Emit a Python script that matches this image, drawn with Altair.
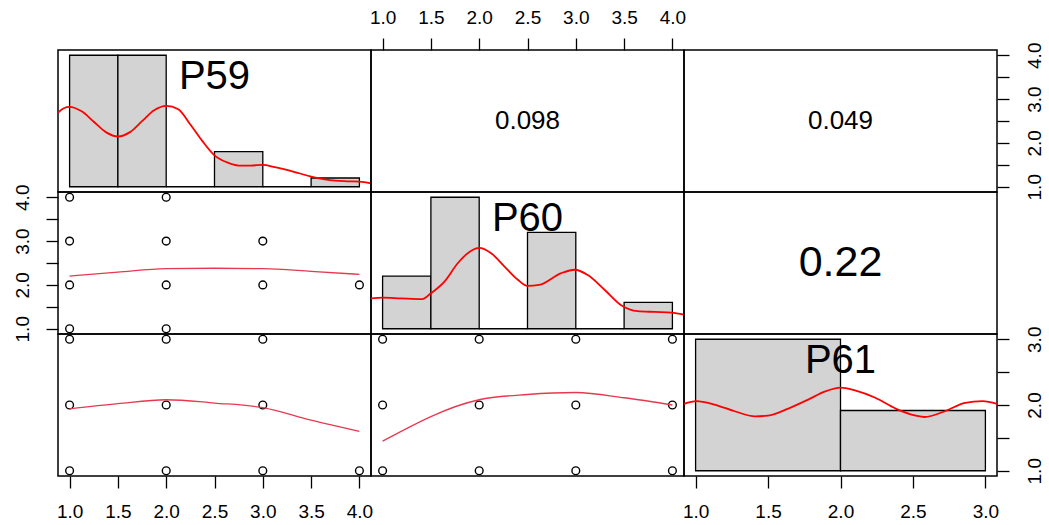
import altair as alt
import pandas as pd

FONT = "Liberation Sans"

# ---------------- data ----------------
var_names = ["P59", "P60", "P61"]
dom_p59 = [0.88, 4.12]
dom_p60 = [0.88, 4.12]
dom_p61 = [0.92, 3.08]

# histograms (bin edges and counts)
p59_bin_start = [1.0, 1.5, 2.0, 2.5, 3.0, 3.5]
p59_bin_end = [1.5, 2.0, 2.5, 3.0, 3.5, 4.0]
p59_counts = [15, 15, 0, 4, 0, 1]
p60_bin_start = [1.0, 1.5, 2.0, 2.5, 3.0, 3.5]
p60_bin_end = [1.5, 2.0, 2.5, 3.0, 3.5, 4.0]
p60_counts = [6, 15, 0, 11, 0, 3]
p61_bin_start = [1.0, 2.0]
p61_bin_end = [2.0, 3.0]
p61_counts = [24, 11]

# density curves (in count units)
p59_dens_x = [0.88, 0.94, 1.0, 1.125, 1.25, 1.375, 1.5, 1.625, 1.75, 1.875, 2.0, 2.125, 2.25,
              2.375, 2.5, 2.625, 2.75, 2.875, 3.0, 3.125, 3.25, 3.375, 3.5, 3.625, 3.75, 3.875, 4.0, 4.12]
p59_dens_y = [8.46, 8.96, 9.12, 8.6, 7.42, 6.23, 5.73, 6.23, 7.48, 8.73, 9.23, 8.85, 7.1,
              5.2, 3.58, 2.8, 2.42, 2.42, 2.5, 2.23, 1.92, 1.54, 1.15, 0.88, 0.69, 0.62, 0.58, 0.38]
p60_dens_x = [0.88, 1.0, 1.19, 1.41, 1.5, 1.64, 1.78, 1.91, 2.0, 2.12, 2.26, 2.4, 2.5, 2.62,
              2.85, 2.99, 3.12, 3.3, 3.47, 3.64, 3.82, 3.99, 4.12]
p60_dens_y = [3.46, 3.54, 3.46, 3.38, 4.04, 5.38, 7.5, 8.85, 9.23, 8.65, 7.12, 5.58, 4.88, 5.0,
              6.35, 6.73, 6.15, 4.42, 2.69, 2.0, 1.92, 1.85, 1.62]
p61_dens_x = [0.92, 1.005, 1.13, 1.27, 1.41, 1.5, 1.64, 1.78, 1.89, 2.0, 2.1, 2.24, 2.38, 2.52,
              2.58, 2.72, 2.86, 2.98, 3.08]
p61_dens_y = [12.2, 12.71, 12.09, 10.86, 9.93, 10.06, 11.35, 13.02, 14.44, 15.18, 14.68, 13.33,
              11.35, 10.06, 9.81, 10.86, 12.4, 12.71, 12.2]

# scatter points
s5960_x = [1, 2, 1, 2, 3, 1, 2, 3, 4, 1, 2]
s5960_y = [4, 4, 3, 3, 3, 2, 2, 2, 2, 1, 1]
s5961_x = [1, 2, 3, 1, 2, 3, 1, 2, 3, 4]
s5961_y = [3, 3, 3, 2, 2, 2, 1, 1, 1, 1]
s6061_x = [1, 2, 3, 4, 1, 2, 3, 4, 1, 2, 3, 4]
s6061_y = [3, 3, 3, 3, 2, 2, 2, 2, 1, 1, 1, 1]

# loess smooths
l5960_x = [1, 1.5, 2, 2.5, 3, 3.5, 4]
l5960_y = [2.2, 2.29, 2.37, 2.38, 2.37, 2.31, 2.24]
l5961_x = [1, 1.5, 2, 2.5, 3, 3.5, 4]
l5961_y = [1.94, 2.02, 2.08, 2.03, 1.96, 1.77, 1.60]
l6061_x = [1, 2, 2.5, 3, 3.5, 4]
l6061_y = [1.45, 2.08, 2.16, 2.19, 2.11, 2.0]

# correlations
r_5960 = "0.098"
r_5961 = "0.049"
r_6061 = "0.22"

ticks_4 = [1.0, 1.5, 2.0, 2.5, 3.0, 3.5, 4.0]
ticks_3 = [1.0, 1.5, 2.0, 2.5, 3.0]

# ---------------- styling helpers ----------------
W, H = 313, 142
LABEL_FS = 19


def sc(domain):
    return alt.Scale(domain=domain, nice=False, zero=False)


def xaxis(orient, values, pad):
    return alt.Axis(orient=orient, values=values, format=".1f", tickSize=12, tickWidth=1.3,
                    tickColor="black", labelPadding=pad, labelFontSize=LABEL_FS, labelFont=FONT,
                    labelColor="black", labelFlush=False, labelOverlap=False, domain=False,
                    grid=False, title=None, labelAngle=0)


def yaxis(orient, values, pad):
    return alt.Axis(orient=orient, values=values,
                    labelExpr="datum.value % 1 == 0 ? format(datum.value, '.1f') : ''",
                    tickSize=12, tickWidth=1.3, tickColor="black", labelPadding=pad,
                    labelFontSize=LABEL_FS, labelFont=FONT, labelColor="black",
                    labelFlush=False, labelOverlap=False, domain=False, grid=False, title=None,
                    labelAngle=270, labelAlign="center",
                    labelBaseline="bottom" if orient == "left" else "top")


def diag_panel(name, b0, b1, counts, dx, dy, xdom, xax=None, yax=None):
    m = max(counts)
    cdom = [-0.04 * m, 1.04 * m]
    hist_df = pd.DataFrame({"b0": b0, "b1": b1, "c": counts, "base": [0] * len(counts)})
    dens_df = pd.DataFrame({"x": dx, "d": dy})
    cx = (xdom[0] + xdom[1]) / 2
    ly = xdom[0] + 0.81 * (xdom[1] - xdom[0])
    lab_df = pd.DataFrame({"x": [cx], "y": [ly], "t": [name]})
    hist = alt.Chart(hist_df).mark_rect(fill="#D3D3D3", stroke="black", strokeWidth=1.3).encode(
        x=alt.X("b0:Q", scale=sc(xdom), axis=xax), x2="b1:Q",
        y=alt.Y("c:Q", scale=sc(cdom), axis=None), y2="base:Q")
    dens = alt.Chart(dens_df).mark_line(color="red", strokeWidth=1.8, interpolate="monotone").encode(
        x=alt.X("x:Q", scale=sc(xdom), axis=xax),
        y=alt.Y("d:Q", scale=sc(cdom), axis=None))
    lab = alt.Chart(lab_df).mark_text(font=FONT, fontSize=40, color="black", align="center",
                                      baseline="middle").encode(
        x=alt.X("x:Q", scale=sc(xdom), axis=xax),
        y=alt.Y("y:Q", scale=sc(xdom), axis=yax),
        text="t:N")
    return alt.layer(hist, dens, lab).resolve_scale(y="independent").properties(width=W, height=H)


def scatter_panel(px, py, lx, ly, xdom, ydom, xax=None, yax=None):
    pts_df = pd.DataFrame({"x": px, "y": py})
    lo_df = pd.DataFrame({"x": lx, "y": ly})
    pts = alt.Chart(pts_df).mark_point(shape="circle", filled=False, color="black", size=60,
                                       strokeWidth=1.4, opacity=1).encode(
        x=alt.X("x:Q", scale=sc(xdom), axis=xax),
        y=alt.Y("y:Q", scale=sc(ydom), axis=yax))
    lo = alt.Chart(lo_df).mark_line(color="#e8384f", strokeWidth=1.3, interpolate="monotone").encode(
        x=alt.X("x:Q", scale=sc(xdom), axis=xax),
        y=alt.Y("y:Q", scale=sc(ydom), axis=yax))
    return alt.layer(pts, lo).properties(width=W, height=H)


def cor_panel(txt, size, xdom, ydom, xax=None, yax=None):
    df = pd.DataFrame({"x": [(xdom[0] + xdom[1]) / 2], "y": [(ydom[0] + ydom[1]) / 2], "t": [txt]})
    return alt.Chart(df).mark_text(font=FONT, fontSize=size, color="black", align="center",
                                   baseline="middle").encode(
        x=alt.X("x:Q", scale=sc(xdom), axis=xax),
        y=alt.Y("y:Q", scale=sc(ydom), axis=yax),
        text="t:N").properties(width=W, height=H)


panels = [
    diag_panel("P59", p59_bin_start, p59_bin_end, p59_counts, p59_dens_x, p59_dens_y, dom_p59),
    cor_panel(r_5960, 26, dom_p60, dom_p59, xax=xaxis("top", ticks_4, 11)),
    cor_panel(r_5961, 26, dom_p61, dom_p59, yax=yaxis("right", ticks_4, 16)),
    scatter_panel(s5960_x, s5960_y, l5960_x, l5960_y, dom_p59, dom_p60,
                  yax=yaxis("left", ticks_4, 14)),
    diag_panel("P60", p60_bin_start, p60_bin_end, p60_counts, p60_dens_x, p60_dens_y, dom_p60),
    cor_panel(r_6061, 43, dom_p61, dom_p60),
    scatter_panel(s5961_x, s5961_y, l5961_x, l5961_y, dom_p59, dom_p61,
                  xax=xaxis("bottom", ticks_4, 14)),
    scatter_panel(s6061_x, s6061_y, l6061_x, l6061_y, dom_p60, dom_p61),
    diag_panel("P61", p61_bin_start, p61_bin_end, p61_counts, p61_dens_x, p61_dens_y, dom_p61,
               xax=xaxis("bottom", ticks_3, 14), yax=yaxis("right", ticks_3, 16)),
]

chart = alt.concat(*panels, columns=3, spacing=0, bounds="flush").properties(
    padding={"left": 12, "top": 7, "right": 0, "bottom": 0},
    background="white",
).configure_view(stroke="black", strokeWidth=1.5)

chart.save("out.html", embed_options={"renderer": "svg", "actions": False})
